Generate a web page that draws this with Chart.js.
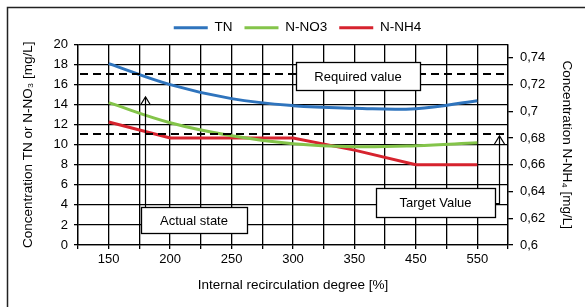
<!DOCTYPE html>
<html>
<head>
<meta charset="utf-8">
<script src="https://cdn.jsdelivr.net/npm/chart.js@4.4.1/dist/chart.umd.min.js"></script>
<style>
  html, body { margin: 0; padding: 0; background: #fff; }
</style>
</head>
<body>
<canvas id="js-nitrogen-chart" width="585" height="307"></canvas>
<script>
// internal recirculation degree [%]
const degrees = ['150', '200', '250', '300', '350', '450', '550'];
// left axis, mg/L
const tnValues = [18.1, 16.0, 14.6, 13.9, 13.65, 13.6, 14.4];
const no3Values = [14.2, 12.2, 10.9, 10.1, 9.8, 9.9, 10.2];
// right axis, mg/L
const nh4Values = [0.692, 0.68, 0.68, 0.68, 0.671, 0.66, 0.66];
// dashed limit lines (left axis units)
const requiredValue = 17.1;
const targetValue = 11.1;

const black = '#000';
Chart.defaults.font.family = '"Liberation Sans", Arial, sans-serif';
Chart.defaults.color = black;

function toPoints(values) {
    return values.map(function (v, i) { return { x: i, y: v }; });
}

function drawArrow(c, pts) {
    c.beginPath();
    c.moveTo(pts[0][0], pts[0][1]);
    for (let i = 1; i < pts.length; i++) c.lineTo(pts[i][0], pts[i][1]);
    c.stroke();
    const tip = pts[pts.length - 1];
    c.beginPath();
    c.moveTo(tip[0] - 5, tip[1] + 8);
    c.lineTo(tip[0], tip[1]);
    c.lineTo(tip[0] + 5, tip[1] + 8);
    c.stroke();
}

function drawNote(c, x, y, w, h, text) {
    c.fillStyle = '#fff';
    c.fillRect(x, y, w, h);
    c.lineWidth = 1.3;
    c.strokeStyle = black;
    c.strokeRect(x + 0.5, y + 0.5, w, h);
    c.fillStyle = black;
    c.font = '13px "Liberation Sans", Arial, sans-serif';
    c.textAlign = 'center';
    c.textBaseline = 'middle';
    c.fillText(text, x + w / 2, y + h / 2 + 1);
}

const notesPlugin = {
    id: 'notes',
    beforeDraw: function (chart) {
        const c = chart.ctx;
        c.save();
        c.fillStyle = '#fff';
        c.fillRect(0, 0, chart.width, chart.height);
        c.strokeStyle = '#222';
        c.lineWidth = 1.5;
        c.strokeRect(7.5, 7.5, chart.width, chart.height);
        c.restore();
    },
    afterDatasetsDraw: function (chart) {
        const c = chart.ctx, a = chart.chartArea, y = chart.scales.y;
        c.save();
        c.strokeStyle = black;
        c.lineWidth = 2;
        c.setLineDash([8, 5]);
        [requiredValue, targetValue].forEach(function (v) {
            const py = Math.round(y.getPixelForValue(v));
            c.beginPath();
            c.moveTo(a.left + 2, py);
            c.lineTo(a.right - 4, py);
            c.stroke();
        });
        c.setLineDash([]);
        c.lineWidth = 1.2;
        drawArrow(c, [[145.5, 207], [145.5, 97]]);
        drawArrow(c, [[495, 203.5], [499.5, 203.5], [499.5, 136]]);
        drawNote(c, 296, 62, 124, 28, 'Required value');
        drawNote(c, 141, 207, 106, 26, 'Actual state');
        drawNote(c, 376, 188, 119, 29, 'Target Value');
        c.restore();
    }
};

const ctx = document.getElementById('js-nitrogen-chart').getContext('2d');
const nitrogenChart = new Chart(ctx, {
    type: 'line',
    data: {
        datasets: [{
            label: 'TN',
            data: toPoints(tnValues),
            borderColor: '#2f74bd',
            backgroundColor: '#2f74bd',
            borderWidth: 3,
            pointRadius: 0,
            tension: 0.4,
            yAxisID: 'y'
        }, {
            label: 'N-NO3',
            data: toPoints(no3Values),
            borderColor: '#84c44a',
            backgroundColor: '#84c44a',
            borderWidth: 3,
            pointRadius: 0,
            tension: 0.4,
            yAxisID: 'y'
        }, {
            label: 'N-NH4',
            data: toPoints(nh4Values),
            borderColor: '#d6232e',
            backgroundColor: '#d6232e',
            borderWidth: 3,
            pointRadius: 0,
            tension: 0,
            yAxisID: 'y1'
        }]
    },
    options: {
        responsive: false,
        animation: false,
        layout: {
            padding: { top: 9, left: 10, right: 0, bottom: 8 }
        },
        plugins: {
            tooltip: { enabled: false },
            legend: {
                position: 'top',
                labels: {
                    boxWidth: 34,
                    boxHeight: 3,
                    padding: 12,
                    font: { size: 13.5 },
                    generateLabels: function (chart) {
                        const items = Chart.defaults.plugins.legend.labels.generateLabels(chart);
                        items.forEach(function (it) { it.lineWidth = 0; });
                        return items;
                    }
                }
            }
        },
        scales: {
            x: {
                type: 'linear',
                min: -0.5,
                max: 6.5,
                afterFit: function (s) { s.height = 54; },
                grid: { color: black, lineWidth: 1.3, tickLength: 4 },
                border: { color: black, width: 1.3 },
                ticks: {
                    stepSize: 0.5,
                    autoSkip: false,
                    maxRotation: 0,
                    padding: 3,
                    font: { size: 13 },
                    callback: function (v) { return Number.isInteger(v) ? degrees[v] : ''; }
                },
                title: {
                    display: true,
                    text: 'Internal recirculation degree [%]',
                    font: { size: 13.5 },
                    padding: { top: 0, bottom: 6 }
                }
            },
            y: {
                position: 'left',
                min: 0,
                max: 20,
                afterFit: function (s) { s.width = 68; },
                grid: { color: black, lineWidth: 1.3, tickLength: 4 },
                border: { color: black, width: 1.3 },
                ticks: { stepSize: 2, padding: 6, font: { size: 13 } },
                title: {
                    display: true,
                    text: 'Concentration TN or N-NO\u2083 [mg/L]',
                    font: { size: 13.5 },
                    padding: { top: 10, bottom: 0 }
                }
            },
            y1: {
                position: 'right',
                min: 0.6,
                max: 0.75,
                afterFit: function (s) { s.width = 77; },
                grid: { drawOnChartArea: false, color: black, lineWidth: 1.3, tickLength: 5 },
                border: { color: black, width: 1.3 },
                ticks: {
                    stepSize: 0.02,
                    includeBounds: false,
                    padding: 7,
                    font: { size: 13 },
                    callback: function (v) { return String(+v.toFixed(2)).replace('.', ','); }
                },
                title: {
                    display: true,
                    text: 'Concentration N-NH\u2084 [mg/L]',
                    font: { size: 13.5 },
                    padding: { top: 10, bottom: 0 }
                }
            }
        }
    },
    plugins: [notesPlugin]
});
</script>
</body>
</html>
